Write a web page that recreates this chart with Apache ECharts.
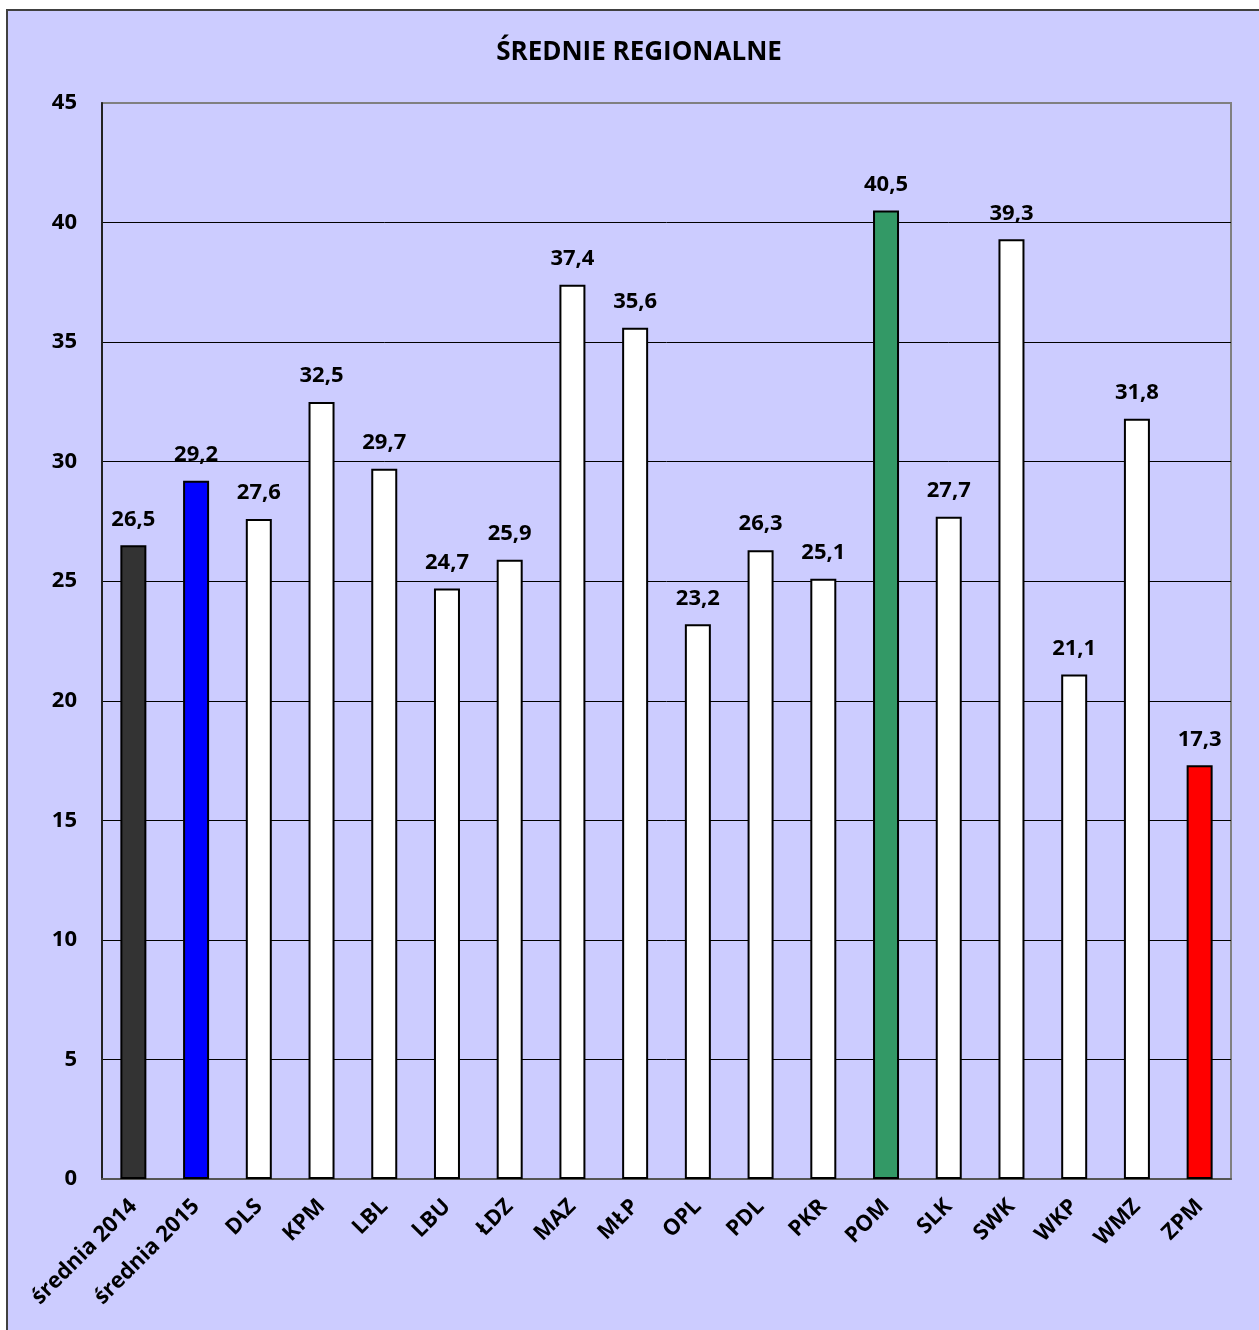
<!DOCTYPE html>
<html><head><meta charset="utf-8">
<script src="https://cdn.jsdelivr.net/npm/echarts@6/dist/echarts.min.js"></script>
<style>html,body{margin:0;padding:0;background:#fff}#c{width:1259px;height:1330px}</style>
</head><body><div id="c"></div>
<script>
const categories = ['średnia 2014','średnia 2015','DLS','KPM','LBL','LBU','ŁDZ','MAZ','MŁP','OPL','PDL','PKR','POM','SLK','SWK','WKP','WMZ','ZPM'];
const values = [26.5,29.2,27.6,32.5,29.7,24.7,25.9,37.4,35.6,23.2,26.3,25.1,40.5,27.7,39.3,21.1,31.8,17.3];
const barColors = ['#333333','#0000FF','#FFFFFF','#FFFFFF','#FFFFFF','#FFFFFF','#FFFFFF','#FFFFFF','#FFFFFF','#FFFFFF','#FFFFFF','#FFFFFF','#339966','#FFFFFF','#FFFFFF','#FFFFFF','#FFFFFF','#FF0000'];
const yTicks = [0,5,10,15,20,25,30,35,40,45];
const titleText = 'ŚREDNIE REGIONALNE';

const font = '"Open Sans", sans-serif';
const chart = echarts.init(document.getElementById('c'));
chart.setOption({
  backgroundColor: '#FFFFFF',
  animation: false,
  graphic: [{
    type: 'rect', z: -10, silent: true,
    shape: {x: 7, y: 10, width: 1300, height: 1400},
    style: {fill: '#CCCCFF', stroke: '#404040', lineWidth: 2}
  }],
  title: {
    text: titleText, left: 634, top: 35, textAlign: 'center',
    textStyle: {fontFamily: font, fontWeight: 'bold', fontSize: 26, color: '#000'}
  },
  grid: {left: 102, top: 103, right: 28, bottom: 151, show: true, backgroundColor: '#CCCCFF', borderColor: '#808080', borderWidth: 2},
  xAxis: {
    type: 'category', data: categories,
    axisLine: {lineStyle: {color: '#555555', width: 2}},
    axisTick: {show: false},
    axisLabel: {rotate: 45, interval: 0, margin: 24, fontFamily: font, fontWeight: 'bold', fontSize: 22, color: '#000'}
  },
  yAxis: {
    type: 'value', min: yTicks[0], max: yTicks[yTicks.length-1], interval: 5,
    axisLine: {show: true, lineStyle: {color: '#222222', width: 2}},
    axisTick: {show: false},
    axisLabel: {margin: 25, fontFamily: font, fontWeight: 'bold', fontSize: 22, color: '#000'},
    splitLine: {lineStyle: {color: ['#000','#000','#000','#000','#000','#000','#000','#000','#000','#808080'], width: 1}}
  },
  series: [{
    type: 'bar', barWidth: 26,
    data: values.map((v, i) => ({value: v, itemStyle: {color: barColors[i]}})),
    itemStyle: {borderColor: '#000', borderWidth: 2},
    label: {show: true, position: 'top', distance: 15, fontFamily: font, fontWeight: 'bold', fontSize: 22, color: '#000',
      formatter: p => p.value.toFixed(1).replace('.', ',')}
  }]
});
</script></body></html>
